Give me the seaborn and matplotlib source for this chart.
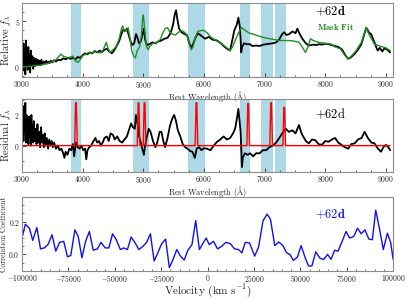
import numpy as np
import seaborn as sns
import matplotlib.pyplot as plt
from matplotlib.ticker import MultipleLocator

# masked regions (Angstrom)
band_lo = [3810, 4827, 5740, 6589, 6948, 7171]
band_hi = [3975, 5100, 6013, 6752, 7143, 7360]

# observed spectrum (relative flux)
spec_wave = [3005, 3015, 3025, 3035, 3045, 3055, 3065, 3075, 3085, 3095, 3105, 3115, 3125, 3135,
             3145, 3155, 3170, 3185, 3200, 3215, 3230, 3245, 3260, 3275, 3290, 3305, 3320, 3340,
             3360, 3380, 3400, 3420, 3440, 3460, 3480, 3500, 3530, 3560, 3600, 3640, 3680, 3720,
             3760, 3800, 3840, 3880, 3920, 3960, 4000, 4040, 4080, 4120, 4160, 4200, 4240, 4280,
             4320, 4360, 4400, 4440, 4480, 4520, 4560, 4600, 4640, 4670, 4700, 4730, 4760, 4790,
             4820, 4850, 4880, 4900, 4930, 4960, 4990, 5010, 5030, 5060, 5100, 5150, 5200, 5250,
             5300, 5350, 5400, 5450, 5490, 5520, 5540, 5560, 5590, 5630, 5680, 5720, 5760, 5790,
             5820, 5860, 5900, 5940, 5980, 6020, 6080, 6140, 6215, 6280, 6325, 6380, 6430, 6470,
             6500, 6540, 6568, 6590, 6605, 6615, 6630, 6660, 6700, 6757, 6800, 6865, 6920, 6980,
             7027, 7080, 7140, 7190, 7240, 7290, 7324, 7360, 7405, 7460, 7510, 7540, 7580, 7622,
             7680, 7730, 7800, 7860, 7892, 7950, 8000, 8054, 8110, 8160, 8216, 8280, 8330, 8378,
             8430, 8486, 8540, 8595, 8640, 8676, 8720, 8757, 8800, 8840, 8865, 8900, 8940, 8970,
             9000, 9040, 9070]
spec_flux = [1.2, -0.4, 2.6, 0.1, 1.9, -0.8, 2.9, 0.3, 1.5, -0.3, 2.2, 0.0, 1.4, -0.6,
             1.8, 0.2, 1.2, -0.2, 1.0, 0.1, 0.9, 0.2, 0.8, 0.3, 0.7, 0.2, 0.8, 0.3,
             0.6, 0.4, 0.7, 0.4, 0.6, 0.45, 0.7, 0.5, 0.75, 0.6, 0.8, 0.75, 0.95, 0.85,
             1.0, 0.9, 1.0, 0.85, 1.1, 1.0, 1.3, 1.5, 1.4, 1.6, 1.5, 1.75, 1.6, 1.8,
             1.65, 1.9, 2.0, 1.7, 1.5, 1.8, 2.3, 2.8, 3.6, 4.1, 3.9, 4.2, 3.5, 2.8,
             2.4, 2.6, 3.6, 3.3, 2.6, 2.8, 3.7, 4.2, 3.0, 2.4, 2.5, 2.7, 2.6, 2.8,
             2.9, 3.1, 3.2, 3.7, 4.6, 5.8, 6.2, 5.3, 4.2, 3.8, 3.6, 3.5, 2.6, 2.1,
             2.5, 3.2, 3.7, 3.5, 3.3, 3.1, 3.3, 3.0, 2.9, 2.6, 2.3, 2.0, 1.8, 3.0,
             4.0, 4.6, 5.4, 4.5, 3.0, 1.6, 2.2, 2.6, 2.5, 2.5, 2.3, 2.35, 2.3, 2.45,
             2.5, 2.55, 2.6, 2.7, 3.0, 3.6, 3.8, 3.5, 3.6, 3.9, 3.7, 4.2, 3.6, 3.1,
             2.6, 2.35, 2.45, 2.4, 2.5, 2.45, 2.55, 2.5, 2.4, 2.3, 2.2, 1.9, 1.3, 0.9,
             1.1, 1.45, 1.9, 2.5, 3.5, 4.3, 3.8, 3.6, 2.9, 2.2, 1.8, 2.1, 1.7, 2.0,
             2.0, 1.8, 1.6]

# mask fit
fit_wave = [3000, 3100, 3200, 3300, 3400, 3500, 3560, 3600, 3640, 3680, 3720, 3760, 3800, 3840,
            3880, 3920, 3960, 4000, 4050, 4100, 4150, 4200, 4250, 4300, 4340, 4390, 4420, 4460,
            4500, 4550, 4600, 4640, 4660, 4690, 4720, 4750, 4780, 4810, 4840, 4870, 4900, 4940,
            4970, 4990, 5000, 5020, 5050, 5080, 5110, 5160, 5220, 5280, 5320, 5360, 5400, 5440,
            5480, 5530, 5580, 5630, 5680, 5720, 5760, 5790, 5820, 5860, 5900, 5950, 6000, 6060,
            6108, 6200, 6300, 6380, 6432, 6480, 6540, 6590, 6622, 6680, 6750, 6811, 6900, 7000,
            7081, 7160, 7243, 7320, 7405, 7480, 7568, 7620, 7676, 7720, 7757, 7800, 7892, 8000,
            8100, 8162, 8250, 8320, 8378, 8430, 8500, 8595, 8640, 8676, 8720, 8811, 8900, 9000,
            9070]
fit_flux = [0.0, 0.05, 0.15, 0.2, 0.35, 0.55, 0.8, 1.1, 1.4, 1.2, 1.1, 1.0, 1.1, 1.2,
            0.7, 0.5, 0.8, 1.25, 1.4, 1.6, 1.5, 1.8, 1.6, 1.55, 1.9, 2.7, 2.0, 1.6,
            1.9, 2.2, 3.0, 4.2, 4.5, 3.9, 4.0, 4.3, 3.2, 1.8, 1.2, 1.0, 1.8, 2.2,
            3.5, 5.4, 5.7, 4.4, 2.3, 1.9, 2.3, 2.6, 2.7, 3.0, 3.7, 4.2, 4.3, 3.8,
            3.6, 3.5, 3.8, 4.0, 3.8, 3.5, 2.5, 1.9, 2.2, 3.3, 3.9, 4.0, 4.0, 3.7,
            3.3, 2.9, 2.5, 2.1, 1.8, 2.3, 3.3, 4.0, 4.3, 4.0, 3.7, 3.6, 3.4, 3.2,
            3.1, 3.0, 2.9, 2.9, 2.9, 2.85, 2.7, 2.2, 1.6, 2.3, 3.1, 2.9, 2.7, 2.6,
            2.5, 2.2, 2.0, 1.3, 0.9, 1.2, 1.7, 2.7, 3.6, 4.3, 3.6, 2.5, 2.3, 2.1,
            1.8]

# residual spectrum
res_wave = [3005, 3015, 3025, 3035, 3045, 3055, 3065, 3075, 3085, 3095, 3105, 3115, 3125, 3135,
            3145, 3155, 3165, 3175, 3185, 3195, 3210, 3225, 3240, 3255, 3270, 3285, 3300, 3315,
            3330, 3345, 3360, 3375, 3390, 3410, 3430, 3450, 3470, 3490, 3510, 3530, 3560, 3590,
            3620, 3650, 3680, 3700, 3720, 3750, 3780, 3810, 3840, 3860, 3890, 3920, 3950, 3980,
            4010, 4040, 4060, 4080, 4110, 4140, 4180, 4210, 4240, 4270, 4300, 4330, 4360, 4400,
            4430, 4460, 4500, 4530, 4570, 4610, 4650, 4690, 4730, 4770, 4800, 4830, 4860, 4880,
            4900, 4930, 4960, 4990, 5010, 5030, 5060, 5090, 5120, 5160, 5200, 5230, 5270, 5300,
            5330, 5360, 5400, 5440, 5480, 5510, 5540, 5570, 5610, 5650, 5690, 5730, 5770, 5810,
            5850, 5880, 5920, 5960, 6000, 6050, 6108, 6160, 6216, 6270, 6324, 6380, 6432, 6480,
            6514, 6545, 6568, 6590, 6605, 6620, 6627, 6640, 6675, 6720, 6760, 6811, 6860, 6919,
            6970, 7027, 7080, 7135, 7190, 7243, 7290, 7351, 7400, 7459, 7510, 7568, 7600, 7622,
            7680, 7730, 7780, 7838, 7890, 7946, 8000, 8054, 8110, 8162, 8215, 8270, 8320, 8378,
            8430, 8486, 8540, 8600, 8649, 8675, 8703, 8760, 8811, 8870, 8919, 8960, 9000, 9040,
            9070]
res_flux = [0.8, 2.2, 0.3, 2.6, 0.9, 2.8, 0.2, 2.0, 0.5, 1.7, 0.1, 1.9, 0.6, 1.4,
            0.0, 2.0, 0.4, 1.3, 0.2, 1.6, 0.3, 1.1, 0.1, 1.4, 0.2, 0.9, -0.1, 1.2,
            0.2, 0.7, -0.1, 0.8, 0.0, 0.5, -0.2, 0.4, 0.0, 0.3, -0.1, 0.2, -0.2, 0.0,
            -0.3, -0.2, -0.5, -0.8, -0.4, -0.6, -0.2, -0.3, 0.1, -0.7, 0.2, -0.1, -0.2, 0.0,
            -0.3, -0.2, -0.9, -0.3, -0.1, 0.0, 0.3, 0.5, 0.2, 0.3, 0.0, 0.2, 0.5, 0.6,
            0.3, 0.8, 0.7, 0.4, 0.6, 0.3, 0.2, 0.4, 0.6, 1.1, 1.45, 1.2, 1.1, 2.0,
            1.6, 0.6, 0.2, -0.3, -0.6, 0.0, 0.6, 1.1, 0.9, 0.3, -0.1, 0.2, 0.9, 0.9,
            0.3, -0.1, 0.5, 1.3, 1.8, 2.0, 1.6, 1.0, 0.6, 0.1, -0.1, -0.2, -0.35, -0.4,
            -0.8, -0.2, -0.1, -0.3, -0.17, -0.2, -0.3, 0.0, 0.25, 0.4, 0.6, 0.4, 0.5, 0.8,
            1.1, 1.8, 2.4, 1.5, 0.9, -0.6, -1.4, -0.8, -0.5, -0.6, -0.5, -0.7, -0.5, -0.5,
            -0.3, -0.3, -0.1, 0.0, 0.2, 0.5, 0.8, 1.1, 0.9, 1.0, 0.8, 1.35, 0.9, 0.7,
            0.3, 0.15, 0.4, 0.35, 0.1, 0.05, 0.3, 0.25, 0.4, 0.5, 0.2, 0.05, -0.1, -0.2,
            0.1, 0.15, 0.4, 0.5, 0.9, 0.7, 0.5, 0.2, 0.15, -0.2, -0.4, -0.1, 0.05, -0.1,
            -0.3]

# narrow line model: centres and peak heights
line_centre = [3890, 4922, 5021, 5877, 6730, 7108, 7324]
line_height = [2.8, 2.8, 2.8, 2.8, 2.75, 2.8, 2.5]

# cross-correlation
vel = [-100000, -98200, -96000, -94200, -92000, -90000, -88000, -86000, -83800, -81800, -79700,
       -77500, -75500, -73700, -71500, -69700, -67700, -65700, -63700, -61600, -59400, -57400,
       -55200, -53200, -51200, -49200, -47000, -45200, -43200, -41200, -39000, -37000, -34800,
       -32800, -30800, -28800, -26800, -24800, -22600, -20600, -18600, -16600, -14600, -12600,
       -10600, -8400, -6400, -4400, -2400, -700, 900, 3200, 5400, 7600, 9900, 12300, 14500,
       16700, 18500, 20300, 22600, 25400, 27500, 29900, 32100, 33900, 36200, 38400, 40600,
       42600, 44400, 46200, 48400, 50400, 52600, 54400, 56200, 58300, 60700, 62500, 64700,
       66500, 68500, 70300, 72500, 74600, 76600, 78800, 80800, 82800, 84800, 86900, 88800,
       90600, 92400, 94700, 96900, 98700, 100000]
corr = [0.10, 0.184, 0.16, 0.086, 0.164, 0.034, 0.04, 0.06, 0.12, 0.02, 0.074,
        0.08, -0.014, -0.006, 0.15, 0.11, -0.02, 0.08, 0.14, 0.026, 0.034, 0.074,
        0.04, 0.04, 0.126, 0.09, 0.03, 0.04, 0.03, 0.106, 0.07, 0.03, 0.05,
        0.074, 0.126, -0.04, 0.01, 0.064, 0.094, -0.08, -0.03, 0.03, -0.01, -0.034,
        0.026, 0.06, 0.206, 0.03, 0.07, 0.10, 0.06, 0.08, 0.034, 0.05, 0.074, 0.066, 0.034,
        0.03, 0.01, 0.074, 0.07, -0.01, 0.046, 0.206, 0.246, 0.214, 0.054, 0.076, 0.054,
        0.01, 0.0, -0.036, -0.016, 0.054, -0.02, -0.07, -0.07, 0.016, -0.024, -0.03, 0.0,
        -0.03, 0.026, 0.02, 0.08, 0.14, 0.10, 0.11, 0.16, 0.126, 0.15, 0.094, 0.09,
        0.27, 0.17, 0.03, 0.13, 0.07, -0.03]

sns.set_style('ticks')
plt.rcParams['font.family'] = ['cmr10', 'DejaVu Serif']
plt.rcParams['mathtext.fontset'] = 'cm'
plt.rcParams['axes.formatter.use_mathtext'] = True
plt.rcParams['axes.unicode_minus'] = True

GREEN = '#1f8f1f'
BLUE = '#1010ee'
fig = plt.figure(figsize=(4.07, 2.99), dpi=100)
ax1 = fig.add_axes([0.054, 0.742, 0.912, 0.248])
ax2 = fig.add_axes([0.054, 0.425, 0.912, 0.244])
ax3 = fig.add_axes([0.054, 0.094, 0.912, 0.247])
for a in (ax2, ax3):
    a.set_facecolor('none')


def style(ax, major, minor, ymaj, ymin):
    ax.xaxis.set_major_locator(MultipleLocator(major))
    ax.xaxis.set_minor_locator(MultipleLocator(minor))
    ax.yaxis.set_major_locator(MultipleLocator(ymaj))
    ax.yaxis.set_minor_locator(MultipleLocator(ymin))
    ax.tick_params(which='both', direction='in', labelsize=5.5, color='#333333', pad=1.5)
    ax.tick_params(which='major', length=3, width=0.6)
    ax.tick_params(which='minor', length=1.6, width=0.5)
    for s in ax.spines.values():
        s.set_color('#8c8c8c')
        s.set_linewidth(0.8)


# top: spectrum + mask fit
for lo, hi in zip(band_lo, band_hi):
    ax1.axvspan(lo, hi, color='#add8e6', lw=0, zorder=0)
sns.lineplot(x=spec_wave, y=spec_flux, ax=ax1, color='black', lw=1.3, sort=False, estimator=None)
sns.lineplot(x=fit_wave, y=fit_flux, ax=ax1, color=GREEN, lw=1.0, sort=False, estimator=None)
ax1.set_xlim(3000, 9120)
ax1.set_ylim(-1.1, 7.0)
style(ax1, 1000, 250, 5, 1)
ax1.set_xlabel(r'Rest Wavelength ($\mathrm{\AA}$)', fontsize=6)
ax1.xaxis.set_label_coords(0.5, -0.155)
ax1.set_ylabel(r'Relative $f_\lambda$', fontsize=7.5, labelpad=1)
ax1.text(0.83, 0.89, r'$\mathbf{+62d}$', transform=ax1.transAxes, fontsize=9,
         ha='center', va='center', color='black')
ax1.text(0.845, 0.68, r'$\mathbf{Mask\ Fit}$', transform=ax1.transAxes, fontsize=6.5,
         ha='center', va='center', color=GREEN)

# middle: residual + line model
line_wave = [3000]
line_flux = [0.0]
for c, h in zip(line_centre, line_height):
    line_wave += [c - 22, c - 6, c + 6, c + 22]
    line_flux += [0.0, h, h, 0.0]
line_wave.append(9070)
line_flux.append(0.0)

for lo, hi in zip(band_lo, band_hi):
    ax2.axvspan(lo, hi, color='#add8e6', lw=0, zorder=0)
sns.lineplot(x=res_wave, y=res_flux, ax=ax2, color='black', lw=1.3, sort=False, estimator=None)
sns.lineplot(x=line_wave, y=line_flux, ax=ax2, color='red', lw=1.0, sort=False, estimator=None)
ax2.set_xlim(3000, 9120)
ax2.set_ylim(-1.72, 3.05)
style(ax2, 1000, 250, 2, 1)
ax2.set_xlabel(r'Rest Wavelength ($\mathrm{\AA}$)', fontsize=6)
ax2.xaxis.set_label_coords(0.5, -0.165)
ax2.set_ylabel(r'Residual $f_\lambda$', fontsize=7.5, labelpad=1)
ax2.text(0.83, 0.79, r'$+62$d', transform=ax2.transAxes, fontsize=9,
         ha='center', va='center', color='black')

# bottom: cross-correlation
sns.lineplot(x=vel, y=corr, ax=ax3, color=BLUE, lw=1.0, sort=False, estimator=None)
ax3.set_xlim(-100000, 100000)
ax3.set_ylim(-0.1, 0.35)
style(ax3, 25000, 5000, 0.2, 0.05)
ax3.yaxis.set_major_formatter(plt.FuncFormatter(lambda v, p: f'${v:.1f}$'))
ax3.set_xlabel(r'Velocity (km s$^{-1}$)', fontsize=8)
ax3.xaxis.set_label_coords(0.5, -0.15)
ax3.set_ylabel('Correlation Coefficient', fontsize=5.5, labelpad=0.5)
ax3.text(0.83, 0.76, r'$\mathbf{+62d}$', transform=ax3.transAxes, fontsize=9,
         ha='center', va='center', color=BLUE)

fig.savefig('out.png', dpi=100)
